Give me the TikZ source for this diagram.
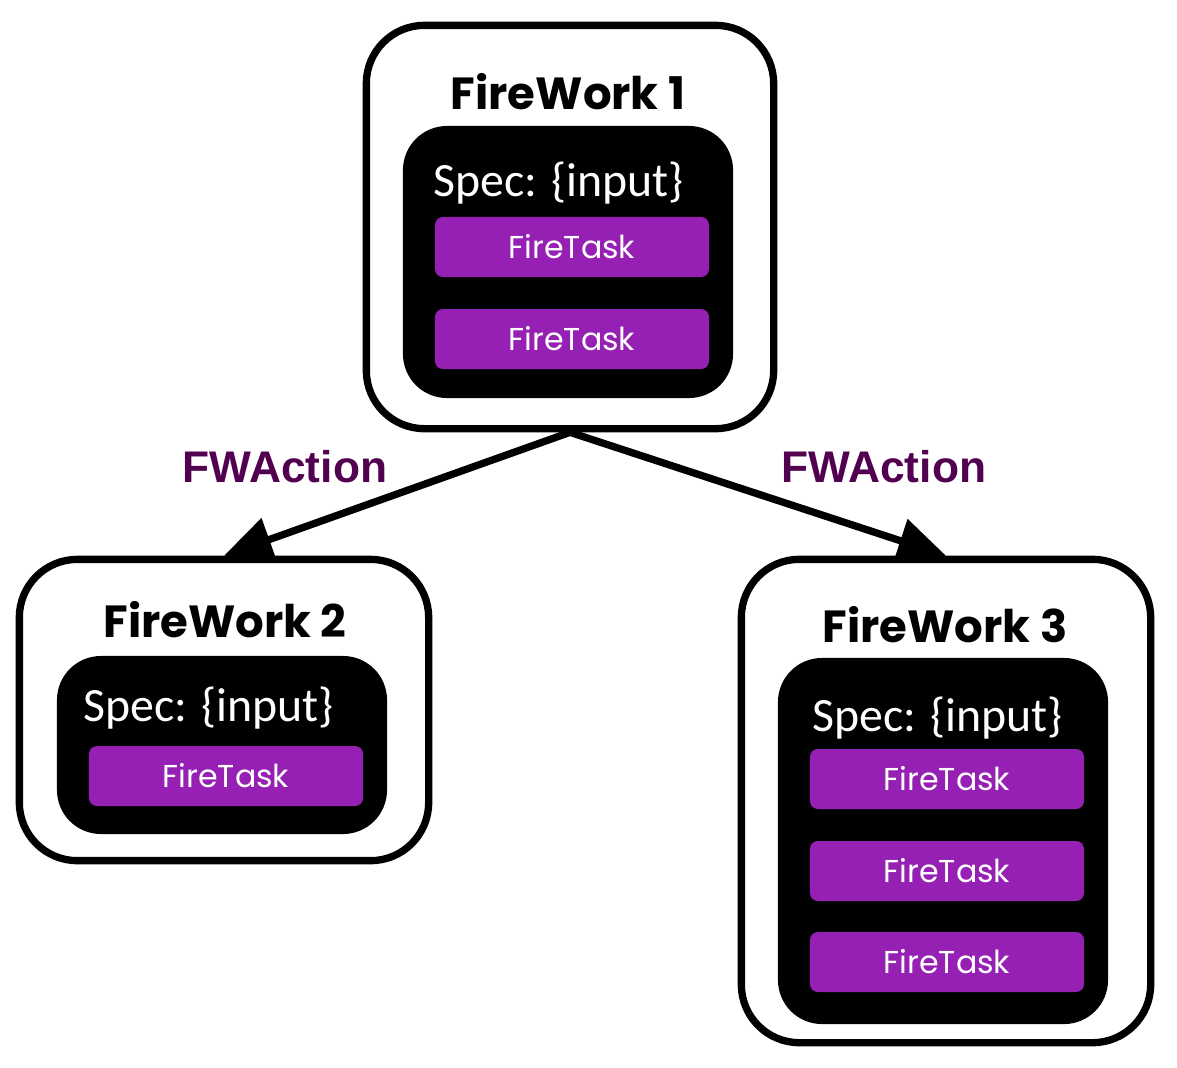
\documentclass[tikz,border=0pt]{standalone}
\usepackage{fontspec}
\usetikzlibrary{arrows.meta}
\newfontfamily\titlefont{Poppins}
\newfontfamily\specfont{Carlito}
\newfontfamily\actionfont{Liberation Sans}
\definecolor{taskpurple}{RGB}{150,32,180}
\definecolor{actionpurple}{RGB}{82,0,80}

\tikzstyle{firework}=[draw,line width=5.2pt,rounded corners=1.45cm,inner sep=0pt]
\tikzstyle{spec}=[fill=black,rounded corners=1.1cm,inner sep=0pt]
\tikzstyle{firetask}=[fill=taskpurple,rounded corners=0.2cm,minimum width=6.85cm,
    minimum height=1.5cm,inner sep=0pt,text=white,font=\titlefont\fontsize{22.5}{26}\selectfont]
\tikzstyle{fwtitle}=[font=\titlefont\bfseries\fontsize{32}{36}\selectfont]
\tikzstyle{spectext}=[anchor=west,inner sep=0pt,text=white,font=\specfont\fontsize{34}{38}\selectfont]
\tikzstyle{fwaction}=[text=actionpurple,font=\actionfont\bfseries\fontsize{31.5}{36}\selectfont]
\tikzstyle{action}=[line width=5.2pt,-{Triangle[length=1.2cm,width=1.1cm]}]
\newcommand{\firetask}[2]{
    \node[firetask] at (#1) (#2) {FireTask};
}

\begin{document}
\begin{tikzpicture}[x=0.025cm,y=-0.025cm]
    \useasboundingbox (0,0) rectangle (1177,1067);
    \node[firework,minimum width=10.18cm,minimum height=10.08cm] at (570,227) (fw1) {};
    \node[firework,minimum width=10.23cm,minimum height=7.53cm] at (224,710) (fw2) {};
    \node[firework,minimum width=10.23cm,minimum height=12.08cm] at (946,801) (fw3) {};

    \node[fwtitle] at (568,92) (title1) {FireWork 1};
    \node[fwtitle] at (225,620) (title2) {FireWork 2};
    \node[fwtitle] at (945,625) (title3) {FireWork 3};

    \node[spec,minimum width=8.25cm,minimum height=6.8cm] at (568,262) (spec1) {};
    \node[spec,minimum width=8.25cm,minimum height=4.45cm] at (222,745) (spec2) {};
    \node[spec,minimum width=8.25cm,minimum height=9.15cm] at (943,841) (spec3) {};

    \node[spectext] at (433,183) (input1) {Spec: \{input\}};
    \node[spectext] at (83,708) (input2) {Spec: \{input\}};
    \node[spectext] at (812,718) (input3) {Spec: \{input\}};

    \firetask{572,247}{task1a}
    \firetask{572,339}{task1b}
    \firetask{226,776}{task2a}
    \firetask{947,779}{task3a}
    \firetask{947,871}{task3b}
    \firetask{947,962}{task3c}

    \draw[action] (fw1.south) -- (fw2.north);
    \draw[action] (fw1.south) -- (fw3.north);
    \node[fwaction] at (285,467) (action2) {FWAction};
    \node[fwaction] at (884,467) (action3) {FWAction};
\end{tikzpicture}
\end{document}
